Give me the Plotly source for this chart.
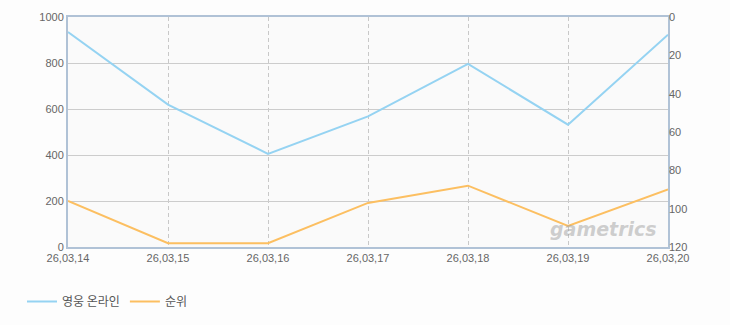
import plotly.graph_objects as go

dates = ["26,03,14", "26,03,15", "26,03,16", "26,03,17", "26,03,18", "26,03,19", "26,03,20"]
game_values = [935, 619, 405, 568, 796, 532, 923]
rank_values = [96, 118, 118, 97, 88, 109, 90]
left_ticks = [0, 200, 400, 600, 800, 1000]
right_ticks = [0, 20, 40, 60, 80, 100, 120]

fig = go.Figure()
fig.add_trace(go.Scatter(x=dates, y=game_values, name="영웅 온라인", mode="lines",
                         line=dict(color="#95d3f2", width=2), yaxis="y"))
fig.add_trace(go.Scatter(x=dates, y=rank_values, name="순위", mode="lines",
                         line=dict(color="#fcbf61", width=2), yaxis="y2"))

tickfont = dict(family="Liberation Sans, Noto Sans CJK KR", size=11, color="#666666")
frame = "#b0c2d6"

fig.update_layout(
    width=730, height=325,
    margin=dict(l=68, r=62, t=17, b=78),
    paper_bgcolor="#fdfdfd",
    plot_bgcolor="#fafafa",
    font=dict(family="Liberation Sans, Noto Sans CJK KR", size=11, color="#666666"),
    xaxis=dict(type="category", range=[0, 6], showgrid=True, gridcolor="#c8c8c8",
               griddash="4px,3px", gridwidth=1, showline=True, mirror=True,
               linecolor=frame, linewidth=2, ticks="", tickfont=tickfont,
               zeroline=False, fixedrange=True),
    yaxis=dict(range=[0, 1000], tickvals=left_ticks, showgrid=True, gridcolor="#cccccc",
               gridwidth=1, showline=True, mirror=True, linecolor=frame, linewidth=2,
               ticks="", tickfont=tickfont, zeroline=False),
    yaxis2=dict(range=[120, 0], tickvals=right_ticks, overlaying="y", side="right",
                showgrid=False, showline=False, ticks="", tickfont=tickfont, zeroline=False),
    showlegend=True,
    legend=dict(orientation="h", xref="container", yref="container",
                x=22 / 730, y=1 - 287 / 325, xanchor="left", yanchor="top",
                font=dict(family="Noto Sans CJK KR", size=12, color="#555555"),
                bgcolor="rgba(0,0,0,0)", itemwidth=30, tracegroupgap=0),
    annotations=[dict(text="<b><i>game</i></b><i><b>trics</b></i>", xref="paper", yref="paper",
                      x=0.985, y=0.02, xanchor="right", yanchor="bottom", showarrow=False,
                      font=dict(family="DejaVu Sans", size=19, color="rgba(160,160,160,0.5)"))],
)

fig.write_html("out.html")
